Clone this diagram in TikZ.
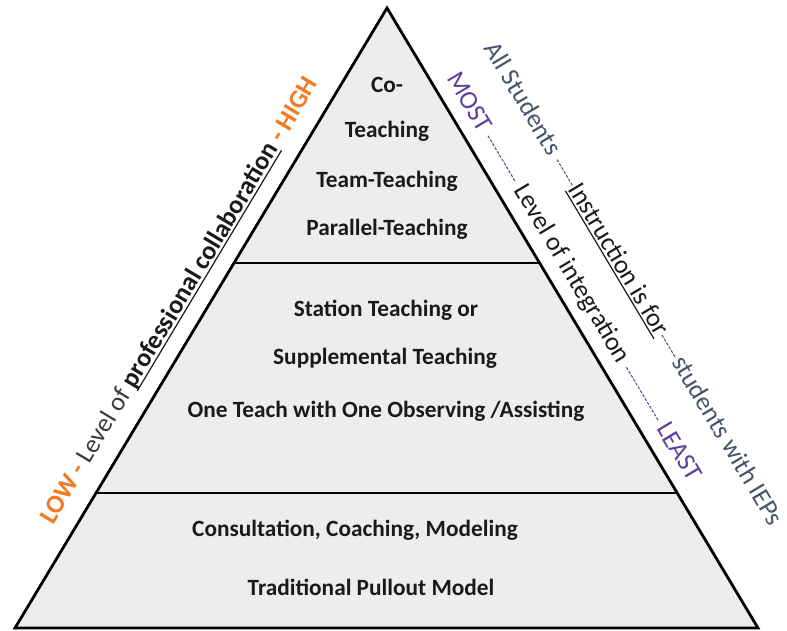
\documentclass[tikz,border=0pt]{standalone}
\usepackage{fontspec}
\setmainfont{Carlito}
\usetikzlibrary{calc}
\definecolor{orng}{HTML}{F47920}
\definecolor{purp}{HTML}{5B3F9F}
\definecolor{slate}{HTML}{44546A}
\definecolor{fillg}{HTML}{EDEDED}
\definecolor{ink}{HTML}{1A1A1A}
\definecolor{lvl}{HTML}{3A3A3A}
\newcommand\myul[1]{\setbox0\hbox{#1}\rlap{\rule[-3.4pt]{\wd0}{1.2pt}}\box0}
\newcommand\dashfill[2]{{\color{#1}\hbox to #2{\leaders\hbox to 4.5pt{\hss\rule[5.5pt]{3pt}{1pt}\hss}\hfill}}}
\begin{document}
\begin{tikzpicture}[x=1pt,y=-1pt,
  tier/.style={font=\fontsize{23.3}{28}\selectfont\bfseries, text=ink, inner sep=0pt, anchor=base},
  sidelbl/.style={font=\fontsize{26}{30}\selectfont, inner sep=0pt, anchor=base}]
\useasboundingbox (0,0) rectangle (787,630);
\fill[white] (0,0) rectangle (787,630);
\coordinate (A) at (387,8);
\coordinate (BL) at (15,628);
\coordinate (BR) at (758,628);
\coordinate (L1) at ($(A)!0.4113!(BL)$);
\coordinate (R1) at ($(A)!0.4113!(BR)$);
\coordinate (L2) at ($(A)!0.7823!(BL)$);
\coordinate (R2) at ($(A)!0.7823!(BR)$);
\fill[fillg] (A)--(BL)--(BR)--cycle;
\draw[line width=2.4pt] (L1)--(R1) (L2)--(R2);
\draw[line width=2.8pt, line join=miter, miter limit=10] (A)--(BL)--(BR)--cycle;
% tier texts
\node[tier] (t1) at (387,92) {Co-};
\node[tier] (t2) at (387,137) {Teaching};
\node[tier] (t3) at (387,187) {Team-Teaching};
\node[tier] (t4) at (387,235) {Parallel-Teaching};
\node[tier] (m1) at (386,316) {Station Teaching or};
\node[tier] (m2) at (385,364) {Supplemental Teaching};
\node[tier] (m3) at (386,417) {One Teach with One Observing /Assisting};
\node[tier] (b1) at (355,536) {Consultation, Coaching, Modeling};
\node[tier] (b2) at (371,595) {Traditional Pullout Model};
% left side label
\node[sidelbl, rotate=59.04] (left) at ($(BL)!0.505!(A) + (-0.8575*20, -0.5145*20)$)
  {{\color{orng}\bfseries LOW -} {\color{lvl}Level of} {\bfseries\color{ink}\myul{professional collaboration}} {\color{orng}\bfseries - HIGH}};
% right side labels
\node[sidelbl, rotate=-59.11] (right1) at ($(A)!0.452!(BR) + (0.8581*15, -0.5135*15)$)
  {{\color{purp}MOST} \dashfill{purp}{55pt} {\color{ink}Level of integration} \dashfill{purp}{63pt} {\color{purp}LEAST}};
\node[sidelbl, rotate=-59.11] (right2) at ($(A)!0.503!(BR) + (0.8581*62, -0.5135*62)$)
  {{\color{slate}All Students }\dashfill{slate}{32pt}{\color{ink}\myul{Instruction is for}}\dashfill{slate}{29pt}{\color{slate}students with IEPs}};
\end{tikzpicture}
\end{document}
